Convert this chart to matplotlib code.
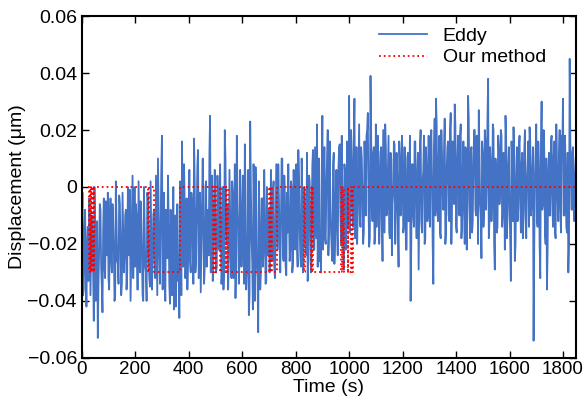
import matplotlib

matplotlib.use("Agg")
import matplotlib.pyplot as plt
import numpy as np
from matplotlib.ticker import FuncFormatter, MultipleLocator

plt.rcParams["font.family"] = ["Liberation Sans", "DejaVu Sans"]

# ---------------------------------------------------------------------------
# Data
# ---------------------------------------------------------------------------
# eddy-current sensor, values in 1e-3 um.
# samples at t = 0, 5, 10, ...
eddy_a = [
    -28, -38, -15, -30, -20, -33, -10, -25, -18, -47, -12, -30, -53, -22, -8, -35, -15, -28, -5, -24,
    -32, -14, -26, -6, -22, -38, -12, -27, -3, -20, -34, -16, -24, -8, -30, -18, -1, -25, 4, -20,
    -28, -10, -36, -15, -5, -24, -40, -12, -30, -2, -22, -35, -16, -26, -8, -32, -18, 10, -24, -14,
    18, -20, -30, -8, -25, -12, -41, -18, -28, -43, -10, -22, -33, -46, -15, 16, -28, -6, -24, -36,
    -14, -26, -2, -18, 17, -30, -8, 13, -22, -37, -5, -16, -28, 2, -12, -24, 25, -20, -33, -6,
    -18, -28, -4, -22, -12, -30, -36, 20, -15, -6, -25, -10, -32, -2, -20, -39, 18, -14, -26, -8,
    -20, -10, 15, -36, -24, -45, 23, -18, -43, -6, 7, -28, -51, -14, -30, -4, -22, -12, -33, -16,
    -8, -24, -14, -2, -28, -18, -6, 8, -20, -12, 10, -26, -4, -31, -16, -9, -22, 0, -27, -13,
    -5, -20, 13, -14, -28, -2, -18, -8, -24, -33, 4, -16, -10, 13, -22, -3, 22, -12, -26, -30,
    25, -10, -18, 2, 20, -14, -6, -22, 8, -27, -3, -16, 6, 15, -20, -8, -29, 4, -12, -2,
    32, -6, 10, -14, 31, 0, -20, 8, -10, 14, -4, -16, 6, 18, 26, -21, 39, -8, 12, -20,
    22, -4, 8, -12, 14, -26, 2, 22, -10, 6, -16, 12, -24, -2, 15, -8, 4, -28, 10, -6,
    10, -14, 6, -22, 12, -2, -40, 8, -10, 16, -6, 4, -29, 14, -12, 2, 18, -18, 6, -4,
    -10, 14, 4, -34, 24, 31, -8, 10, -16, 20, -2, 12, -20, 6, 16, -12, 26, -4, 8, 29,
    -14, 10, 2, 18, -18, 6, -8, 14, -22, 32, -4, 12, -16, 8, 20, -10, 4, 27, -6, -25,
    12, -8, 16, 2, 38, -12, 8, -4, 20, -29, 6, -14, 14, 0, 18, -10, 4, 25, -18, 8,
    -6, -33, 10, 21, -26, 4, -12, 14, -4, 8, -18, 12, -8, 2, 16, 21, -10, 6, -54, 4,
    22, -14, 8, -32, 30, -6, 12, -20, -36, 6, -10, 16, -2, 10, -16, 22, -4, 12, -8, 18,
    31, -10, 6, -16, -30, 45, 2, 12, -8, 4,
]
# samples at t = 2.5, 7.5, 12.5, ...
eddy_b = [
    -2, -36, -8, -42, -14, -4, -38, -10, -30, 0, -40, -12, -34, -6, -28, -44, -4, -32, -16, -2,
    -36, -4, -30, -12, -40, 2, -26, -34, -6, -38, -2, -30, -10, -36, 0, -24, -40, -8, -32, 0,
    -6, -36, 2, -30, -12, -38, 0, -28, -40, -4, -32, 2, -36, -10, -26, 4, -38, -6, -34, 6,
    -36, -2, -40, -14, 4, -34, -8, -38, 0, -30, -42, -6, -26, 2, -38, -10, 8, -32, -4, -26,
    6, -30, -6, -34, 2, -26, 8, -32, -2, -20, 10, -34, 0, -28, -8, 12, -30, 4, -24, 6,
    -30, 4, -22, 8, -34, 0, -28, 10, -20, -36, 6, -26, 2, -32, 8, -24, -4, -34, 6, -28,
    4, -34, -2, -30, 6, -38, 0, -26, 8, -40, -6, -32, 2, -36, -4, -28, 6, -34, 0, -24,
    -30, 6, -26, 2, -32, 8, -22, -4, -30, 10, -24, 4, -28, -2, 8, -26, 2, -30, 6, -22,
    8, -28, 4, -24, 10, -30, 0, -20, 12, -26, 2, -30, 8, -22, 14, -18, -28, 10, -24, 4,
    -22, 14, -20, 10, -24, 16, -16, -26, 12, -18, 6, -24, 14, -10, 18, -20, 8, -22, 16, -14,
    -16, 20, -12, 16, -18, 14, -8, 22, -14, 10, -20, 16, -10, 20, -6, -18, 18, -12, 14, -16,
    -14, 18, -20, 12, -10, 20, -16, 14, -8, 18, -18, 10, -6, 16, -20, 12, -14, 16, -10, 18,
    -16, 14, -22, 10, -12, 18, -20, 8, -14, 16, -18, 12, -8, 20, -16, 6, -20, 14, -12, 18,
    -14, 20, -20, 14, -10, 22, -12, 18, -18, 10, -8, 24, -16, 14, -10, 20, -20, 16, -6, 22,
    -16, 18, -10, 22, -14, 16, -20, 12, -6, 24, -18, 14, -12, 20, -8, 18, -20, 12, -10, 16,
    -14, 20, -8, 24, -18, 14, -12, 22, -20, 10, -16, 18, -6, 20, -14, 12, -22, 16, -10, 14,
    -18, 16, -12, 10, -20, 14, -8, 18, -16, 12, -10, 20, -18, 8, -14, 16, -6, 14, -20, 12,
    -12, 16, -20, 14, -8, 20, -16, 10, -22, 12, -10, 18, -14, 16, -18, 8, -12, 20, -16, 14,
    -10, 18, -14, 12, -20, 16, -8, 14, -12, 10,
]

# our method: piecewise constant, the value holds from step_t[i] to step_t[i+1]
step_t = [25, 27, 30, 33, 36, 40, 43, 45, 47,
          248, 251, 272, 366,
          490, 493, 500, 503, 518, 521, 538, 541, 548,
          701, 705, 709, 713, 729,
          832, 835, 857, 861, 866,
          969, 972, 976, 980, 994, 997, 1007, 1010, 1015, 1845]
step_v = [0.0, -0.030, 0.0, -0.030, 0.0, -0.030, 0.0, -0.030, 0.0,
          -0.030, 0.0, -0.030, 0.0,
          -0.030, 0.0, -0.030, 0.0, -0.030, 0.0, -0.030, 0.0, -0.030,
          0.0, -0.030, 0.0, -0.030, 0.0,
          -0.030, 0.0, -0.030, 0.0, -0.030,
          0.0, -0.030, 0.0, -0.030, 0.0, -0.030, 0.0, -0.030, 0.0, 0.0]

x_ticks = [0, 200, 400, 600, 800, 1000, 1200, 1400, 1600, 1800]


def _ylab(v, pos):
    if abs(v) < 1e-9:
        return "0"
    return f"{v:.2f}".replace("-", "\u2212")


# interleave the two sample sets
n = len(eddy_a)
eddy_t = np.empty(2 * n)
eddy_t[0::2] = np.arange(n) * 5.0
eddy_t[1::2] = np.arange(n) * 5.0 + 2.5
eddy = np.empty(2 * n)
eddy[0::2] = eddy_a
eddy[1::2] = eddy_b
eddy = eddy / 1000.0

fig = plt.figure(figsize=(5.84, 4.03), dpi=100)
ax = fig.add_axes([0.140, 0.112, 0.846, 0.848])

ax.plot(eddy_t, eddy, color="#4472C4", lw=1.3, label="Eddy")
ax.step(step_t, step_v, where="post", color="red", lw=1.3, ls=":",
        label="Our method")

ax.set_xlim(0, 1848)
ax.set_ylim(-0.06, 0.06)
ax.set_xticks(x_ticks)
ax.yaxis.set_major_locator(MultipleLocator(0.02))
ax.yaxis.set_major_formatter(FuncFormatter(_ylab))
ax.tick_params(direction="in", top=True, right=True, length=5, width=1,
               labelsize=14)
ax.tick_params(axis="x", labelsize=13.5, pad=2)
ax.tick_params(axis="y", pad=3.5)
for s in ax.spines.values():
    s.set_linewidth(1.5)

ax.set_xlabel("Time (s)", fontsize=14, labelpad=1)
ax.set_ylabel("Displacement (\u03bcm)", fontsize=14, labelpad=1)

ax.legend(loc="upper left", bbox_to_anchor=(0.585, 0.99), frameon=False,
          fontsize=14, handlelength=2.5, borderaxespad=0, labelspacing=0.2)

fig.savefig("out.png", dpi=100)
